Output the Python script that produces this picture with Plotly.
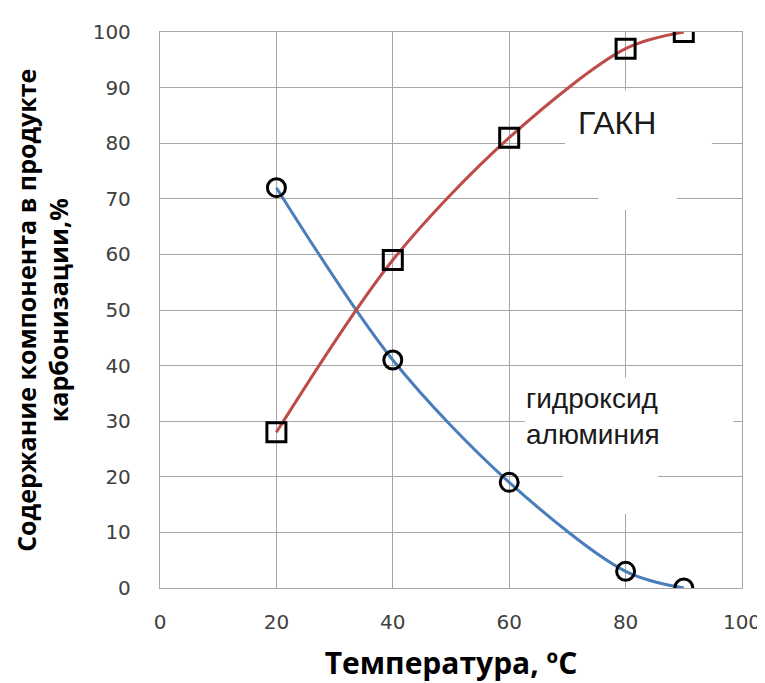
import plotly.graph_objects as go

temperature = [20, 40, 60, 80, 90]
gakn = [28, 59, 81, 97, 100]
hydroxide = [72, 41, 19, 3, 0]
x_ticks = [0, 20, 40, 60, 80, 100]
y_ticks = [0, 10, 20, 30, 40, 50, 60, 70, 80, 90, 100]

fig = go.Figure()

fig.add_trace(go.Scatter(
    x=temperature, y=hydroxide, mode="lines+markers",
    line=dict(color="#4a7ebb", width=3, shape="spline", smoothing=0.9),
    marker=dict(symbol="circle-open", size=18, color="black", line=dict(width=3, color="black")),
    showlegend=False))
fig.add_trace(go.Scatter(
    x=temperature, y=gakn, mode="lines+markers",
    line=dict(color="#be4b48", width=3, shape="spline", smoothing=0.9),
    marker=dict(symbol="square-open", size=19, color="black", line=dict(width=3, color="black")),
    showlegend=False))

# white patches behind labels (cover gridlines)
for x0, x1, y0, y1 in [(69.6, 94.8, 72.5, 89.5), (75.3, 88.8, 68, 78),
                       (62.7, 98.5, 23.6, 37.8), (69.2, 85.6, 13.3, 26.3)]:
    fig.add_shape(type="rect", xref="x", yref="y", x0=x0, x1=x1, y0=y0, y1=y1,
                  fillcolor="white", line=dict(width=0), layer="between")

fig.add_annotation(x=78.5, y=83.6, xref="x", yref="y", text="ГАКН", showarrow=False,
                   font=dict(family="Liberation Sans, Arial", size=32, color="#1a1a1a"))
fig.add_annotation(x=62.5, y=30.8, xref="x", yref="y", text="гидроксид<br>алюминия",
                   showarrow=False, xanchor="left", align="left",
                   font=dict(family="Liberation Sans, Arial", size=28, color="#1a1a1a"))

fig.add_annotation(x=-0.203, y=0.5, xref="paper", yref="paper",
                   xanchor="center", yanchor="middle",
                   text="<b>Содержание компонента в продукте<br>карбонизации,%</b>",
                   showarrow=False, textangle=-90,
                   font=dict(family="Open Sans", size=25, color="black"))

axis_common = dict(showgrid=True, gridcolor="#a6a6a6", gridwidth=1.3,
                   zeroline=False, showline=True, linecolor="#a6a6a6", linewidth=1.3,
                   mirror=True, ticks="",
                   tickfont=dict(family="DejaVu Sans", size=20, color="#404040"))

fig.update_xaxes(range=[0, 100], tickvals=x_ticks, ticklabelstandoff=16,
                 title=dict(text="<b>Температура, ºС</b>", standoff=19,
                            font=dict(family="Open Sans", size=30, color="black")),
                 **axis_common)
fig.update_yaxes(range=[0, 100], tickvals=y_ticks, ticklabelstandoff=24, **axis_common)

fig.update_layout(width=765, height=683, plot_bgcolor="white", paper_bgcolor="white",
                  margin=dict(l=152, r=31, t=17, b=103))

fig.write_html("out.html")
